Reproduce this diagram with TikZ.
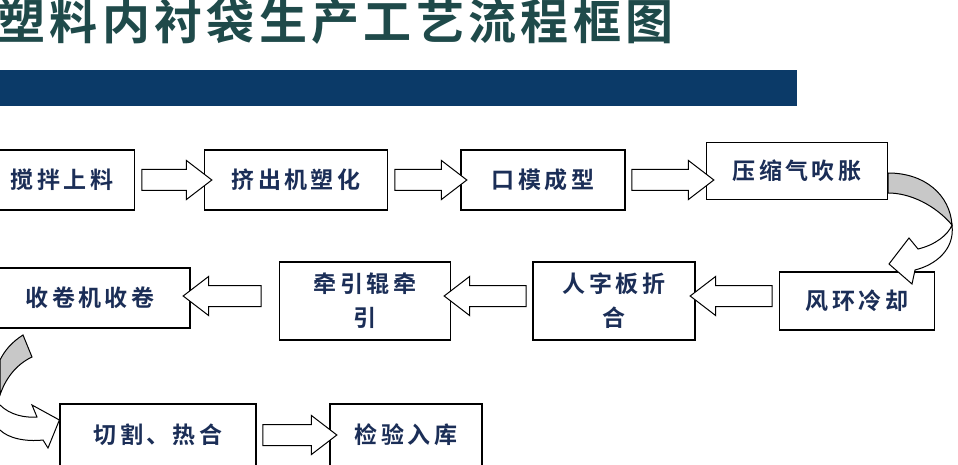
\documentclass[tikz,border=0pt]{standalone}
\usepackage{fontspec}
\newfontfamily\cjk{Noto Sans CJK SC}[BoldFont={Noto Sans CJK SC Bold}]
\newfontfamily\cjkw{Noto Sans CJK SC}[BoldFont={Noto Sans CJK SC Bold},LetterSpace=15]
\newfontfamily\cjkt{Noto Sans CJK SC}[BoldFont={Noto Sans CJK SC Bold},LetterSpace=9]
\usetikzlibrary{shapes.arrows}
\definecolor{txt}{HTML}{1B2E57}
\definecolor{ttl}{HTML}{1F4A4A}
\definecolor{bar}{HTML}{0B3A68}
\definecolor{band}{HTML}{C8C8C8}
\begin{document}
\begin{tikzpicture}[x=1pt,y=-1pt,
  box/.style={draw=black,line width=1.2pt,fill=white,inner sep=0pt,font=\cjkw\bfseries\fontsize{23}{34}\selectfont,text=txt,align=center},
  barrow/.style={single arrow,draw=black,line width=1pt,fill=white,minimum width=38pt,single arrow head extend=9pt,inner xsep=0pt,inner ysep=10pt,single arrow tip angle=75}]
\useasboundingbox (0,0) rectangle (958,465);
\node[font=\cjkt\bfseries\fontsize{48}{48}\selectfont,text=ttl,anchor=west] (title) at (-6,21) {塑料内衬袋生产工艺流程框图};
\fill[bar] (0,70) rectangle (797,106);
\node[box,minimum width=145pt,minimum height=60pt] (b1) at (62,180) {搅拌上料};
\node[box,minimum width=183pt,minimum height=60pt] (b2) at (296,180) {挤出机塑化};
\node[box,minimum width=164pt,minimum height=60pt] (b3) at (543,180) {口模成型};
\node[box,minimum width=181pt,minimum height=57pt] (b4) at (797,171) {压缩气吹胀};
\node[box,minimum width=155pt,minimum height=58pt] (b5) at (857,301) {风环冷却};
\node[box,minimum width=162pt,minimum height=78pt] (b6) at (614,301) {人字板折\\合};
\node[box,minimum width=171pt,minimum height=78pt] (b7) at (365,301) {牵引辊牵\\引};
\node[box,minimum width=200pt,minimum height=60pt] (b8) at (90,298) {收卷机收卷};
\node[box,minimum width=196pt,minimum height=62pt] (b9) at (158,435) {切割、热合};
\node[box,minimum width=152pt,minimum height=62pt] (b10) at (406,435) {检验入库};
\node[barrow,minimum height=70pt] (a1) at (170,180) {};
\node[barrow,minimum height=72pt] (a2) at (424,180) {};
\node[barrow,minimum height=82pt] (a3) at (666,180) {};
\node[barrow,minimum height=82pt,shape border rotate=180] (a4) at (738,296) {};
\node[barrow,minimum height=82pt,shape border rotate=180] (a5) at (492,296) {};
\node[barrow,minimum height=78pt,shape border rotate=180] (a6) at (229,296) {};
\node[barrow,minimum height=74pt] (a7) at (293,435) {};
% right curved arrow
\coordinate (r0) at (b4.east|-0,173);
\coordinate (r1) at (b4.east|-0,193);
\coordinate (rm) at (952,225);
\filldraw[fill=band,draw=black,line width=1pt] (r0) .. controls (925,173) and (950,195) .. (rm) .. controls (935,205) and (910,193) .. (r1) -- cycle;
\filldraw[fill=white,draw=black,line width=1pt] (rm) .. controls (955,250) and (935,265) .. (915,270) -- (912,284) -- (889,264) -- (909,238) -- (918,249) .. controls (935,245) and (948,235) .. (rm) -- cycle;
% left curved arrow
\coordinate (l0) at (23,335);
\filldraw[fill=band,draw=black,line width=1pt] (l0) -- (32,357) .. controls (15,365) and (5,380) .. (0,395) -- (0,360) .. controls (5,350) and (12,342) .. (l0) -- cycle;
\filldraw[fill=white,draw=black,line width=1pt] (0,405) .. controls (10,415) and (25,418) .. (37,417) -- (32,405) -- (b9.west|-0,420) -- (48,448) -- (43,440) .. controls (25,442) and (8,438) .. (0,430);
\end{tikzpicture}
\end{document}
